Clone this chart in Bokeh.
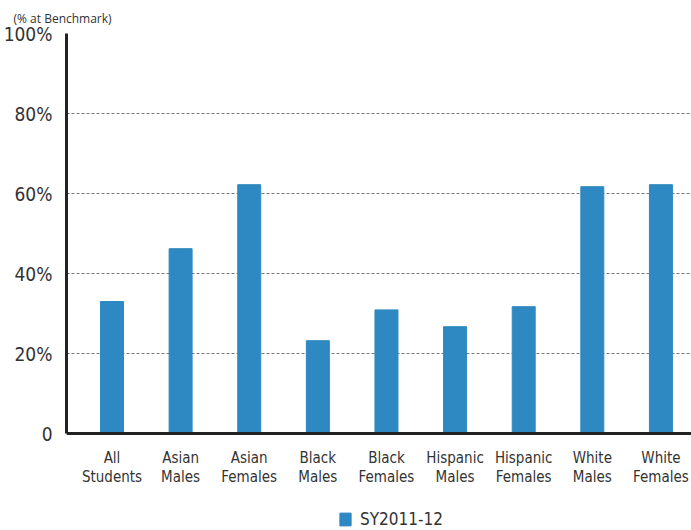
from bokeh.plotting import figure
from bokeh.models import ColumnDataSource, FixedTicker, Legend, LegendItem, Range1d
from bokeh.embed import file_html
from bokeh.resources import INLINE

# Share of students at benchmark, SY2011-12
groups = ["All\nStudents", "Asian\nMales", "Asian\nFemales", "Black\nMales", "Black\nFemales",
          "Hispanic\nMales", "Hispanic\nFemales", "White\nMales", "White\nFemales"]
pct_at_benchmark = [33.0, 46.2, 62.2, 23.2, 30.9, 26.7, 31.7, 61.7, 62.2]
y_ticks = [0, 20, 40, 60, 80, 100]
y_tick_labels = ["0", "20%", "40%", "60%", "80%", "100%"]
series_name = "SY2011-12"
unit_note = "(% at Benchmark)"

BAR = "#2E88C1"
TEXT = "#333333"
FONT = "DejaVu Sans Condensed"

pos = list(range(len(groups)))
src = ColumnDataSource(dict(x=pos, top=pct_at_benchmark))

# the frame runs down to the bottom edge; the x axis is pinned at zero so the
# group labels and the legend share the space underneath it
p = figure(frame_width=626, frame_height=497, output_backend="svg", toolbar_location=None,
           x_range=Range1d(-0.663, 8.46), y_range=Range1d(-24.25, 100),
           min_border_left=65, min_border_right=0, min_border_top=33, min_border_bottom=0)
p.outline_line_color = None
p.background_fill_color = "white"

# unit note sits in the title slot, pulled left over the tick labels
p.title.text = unit_note
p.title.align = "left"
p.title.offset = -53
p.title.text_font = "Open Sans"
p.title.text_font_size = "12px"
p.title.text_font_style = "normal"
p.title.text_color = TEXT
p.title.standoff = 13

bars = p.vbar(x="x", top="top", width=0.335, bottom=0, source=src, color=BAR)

# y axis, drawn only over 0-100
p.yaxis.ticker = FixedTicker(ticks=y_ticks)
p.yaxis.bounds = (0, 100)
p.yaxis.major_label_overrides = {t: l for t, l in zip(y_ticks, y_tick_labels)}
p.yaxis.major_label_text_font = FONT
p.yaxis.major_label_text_font_size = "19px"
p.yaxis.major_label_text_color = TEXT
p.yaxis.axis_line_width = 3
p.yaxis.axis_line_color = "#222222"
p.yaxis.major_tick_line_color = None
p.yaxis.minor_tick_line_color = None
p.yaxis.major_label_standoff = 8

# x axis at zero with two-line group labels
p.xaxis.fixed_location = 0
p.xaxis.ticker = FixedTicker(ticks=pos)
p.xaxis.major_label_overrides = {i: g for i, g in zip(pos, groups)}
p.xaxis.major_label_text_font = FONT
p.xaxis.major_label_text_font_size = "15px"
p.xaxis.major_label_text_color = TEXT
p.xaxis.major_label_text_line_height = 1.1
p.xaxis.axis_line_width = 3
p.xaxis.axis_line_color = "#222222"
p.xaxis.major_tick_line_color = None
p.xaxis.minor_tick_line_color = None
p.xaxis.major_label_standoff = 9

p.xgrid.grid_line_color = None
p.ygrid.grid_line_color = "#7a7a7a"
p.ygrid.grid_line_dash = "3 2"
p.ygrid.grid_line_width = 1

legend = Legend(items=[LegendItem(label=series_name, renderers=[bars])],
                orientation="horizontal", location=(272, 1),
                label_text_font=FONT, label_text_font_size="17px", label_text_color=TEXT,
                glyph_width=14, glyph_height=16, border_line_color=None,
                background_fill_alpha=0, padding=0, margin=0, spacing=0, label_standoff=8)
p.add_layout(legend, "center")

open("out.html", "w").write(file_html(p, INLINE))
